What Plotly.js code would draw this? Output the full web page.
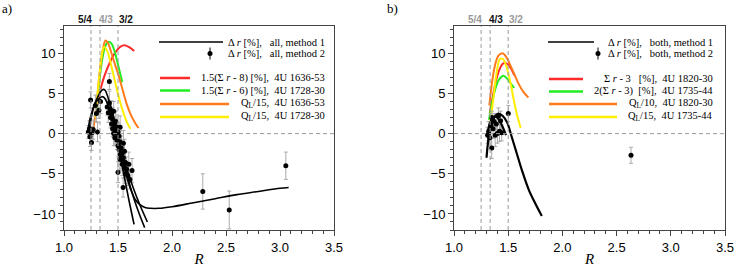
<!DOCTYPE html>
<html><head><meta charset="utf-8">
<script src="https://cdn.plot.ly/plotly-3.0.1.min.js"></script>
<style>html,body{margin:0;padding:0;background:#fff}#plot{width:735px;height:267px}</style>
</head><body><div id="plot"></div>
<script>
// ---------- Panel a data ----------
const redA_R = [1.31,1.33,1.36,1.40,1.44,1.48,1.52,1.56,1.60,1.65];
const redA_v = [3.5,5.0,6.6,8.1,9.3,10.2,10.8,11.0,10.8,10.3];
const greenA_R = [1.30,1.32,1.34,1.36,1.38,1.40,1.42,1.44,1.46,1.48,1.50,1.52,1.54];
const greenA_v = [2.5,5.5,8.0,9.7,10.8,11.3,11.4,11.2,10.6,9.7,8.6,7.5,6.4];
const orangeA_R = [1.27,1.30,1.33,1.36,1.385,1.41,1.44,1.47,1.50,1.54,1.58,1.62,1.66,1.69];
const orangeA_v = [0.3,3.5,7.5,10.5,11.6,11.2,10.0,8.7,7.5,5.6,3.7,2.3,1.3,0.7];
const yellowA_R = [1.29,1.31,1.33,1.35,1.37,1.40,1.43,1.46,1.49,1.52,1.55,1.58,1.615];
const yellowA_v = [2.0,4.8,7.6,9.8,10.8,10.3,8.9,7.2,5.5,3.9,2.6,1.5,0.6];
const m1A_R = [1.22,1.24,1.27,1.30,1.33,1.36,1.38,1.40,1.43,1.46,1.50,1.54,1.58,1.62,1.66,1.70,1.75,1.80,1.88,2.0,2.2,2.4,2.6,2.8,3.0,3.08];
const m1A_v = [0.2,1.8,3.2,4.2,5.0,5.5,5.4,4.8,3.5,2.0,-0.5,-3.0,-5.3,-7.0,-8.2,-8.8,-9.2,-9.3,-9.3,-9.1,-8.6,-8.1,-7.6,-7.2,-6.8,-6.7];
const m1A2_R = [1.23,1.26,1.29,1.32,1.35,1.37,1.40,1.45,1.50,1.55,1.60,1.649];
const m1A2_v = [0.0,2.5,3.8,4.3,4.6,4.5,3.8,1.8,-1.3,-4.8,-8.2,-11.3];
const m1A3_R = [1.45,1.50,1.55,1.60,1.65,1.70,1.747];
const m1A3_v = [2.0,-0.5,-3.4,-6.0,-8.2,-10.1,-11.7];
const m1A4_R = [1.46,1.52,1.58,1.64,1.70,1.772];
const m1A4_v = [1.5,-1.5,-4.3,-6.7,-8.8,-11.0];
const m2A_R = [1.225,1.235,1.24,1.246,1.255,1.26,1.27,1.29,1.30,1.31,1.323,1.338,
  1.40,1.41,1.42,1.42,1.43,1.43,1.44,1.44,1.45,1.45,1.46,1.46,1.47,1.47,1.48,1.48,1.49,1.49,
  1.50,1.50,1.51,1.51,1.52,1.52,1.52,1.53,1.53,1.54,1.54,1.55,1.55,1.56,1.56,1.57,1.57,1.58,
  1.59,1.60,1.61,1.63,1.547,1.517,1.50,2.285,2.53,3.054];
const m2A_v = [0.2,0.6,-0.4,4.2,-1.1,0.1,0.5,3.5,2.5,0.2,2.9,4.0,
  3.3,2.6,6.5,3.8,2.0,3.0,1.2,2.5,0.6,1.8,2.8,0.0,1.0,-0.5,1.5,0.3,-0.8,0.8,
  -1.5,0.2,-0.3,-2.0,-1.0,-2.6,0.8,-1.8,-3.2,-2.4,-3.8,-1.2,-3.0,-4.3,-2.2,-3.6,-5.0,-4.4,
  -5.2,-3.8,-5.7,-4.6,-6.7,-3.2,-4.8,-7.2,-9.5,-4.0];
const m2A_err = [0.8,1.0,1.2,1.0,1.0,0.8,1.2,1.3,1.0,1.2,1.0,1.5,
  1.0,1.2,1.0,1.5,1.3,1.0,1.2,1.6,1.0,1.4,1.2,1.5,1.2,1.0,1.3,1.6,1.2,1.0,
  1.4,1.2,1.5,1.1,1.3,1.2,1.4,1.5,1.2,1.3,1.4,1.6,1.2,1.3,1.5,1.4,1.2,1.5,
  1.3,1.5,1.2,1.5,1.2,1.4,1.3,2.2,2.35,1.7];

// ---------- Panel b data ----------
const redB_R = [1.33,1.36,1.39,1.42,1.45,1.47,1.50,1.53,1.556];
const redB_v = [2.5,4.8,6.7,8.0,8.7,8.8,8.6,8.0,7.25];
const greenB_R = [1.323,1.35,1.38,1.41,1.44,1.455,1.48,1.51,1.53,1.556];
const greenB_v = [1.7,3.8,5.5,6.6,7.1,7.2,7.0,6.5,6.1,5.7];
const orangeB_R = [1.326,1.35,1.38,1.41,1.446,1.48,1.52,1.56,1.60,1.64,1.686];
const orangeB_v = [3.5,6.3,8.6,9.7,10.0,9.6,8.5,7.3,6.1,5.2,4.5];
const yellowB_R = [1.33,1.36,1.39,1.424,1.45,1.48,1.517,1.547,1.58,1.615];
const yellowB_v = [1.0,4.0,7.3,9.3,9.3,8.5,6.6,4.5,2.4,0.7];
const m1B_R = [1.30,1.32,1.35,1.38,1.41,1.45,1.49,1.53,1.58,1.63,1.69,1.75,1.81];
const m1B_v = [-3.0,-0.5,1.3,2.2,2.5,2.2,1.4,-0.3,-2.5,-4.7,-7.0,-8.7,-10.25];
const m1B2_R = [1.31,1.33,1.36,1.39,1.42,1.45,1.48];
const m1B2_v = [0.0,1.2,2.0,2.1,1.6,0.8,-0.2];
const m2B_R = [1.31,1.317,1.32,1.33,1.34,1.348,1.35,1.36,1.37,1.38,1.39,1.40,1.41,1.42,1.43,1.44,1.501,2.633];
const m2B_v = [-0.2,-0.1,0.3,-0.5,1.0,-1.8,2.0,0.6,1.5,-0.2,1.2,0.0,2.2,0.3,1.6,0.1,2.5,-2.7];
const m2B_err = [1.0,0.8,1.2,1.0,1.5,1.3,0.8,1.2,1.0,1.4,1.0,1.2,1.0,1.3,1.2,1.0,1.0,1.0];

// ---------- Labels ----------
const resonances = [1.25, 4/3, 1.5];
const resLabels = ['5/4','4/3','3/2'];
const resColorsA = ['#111','#999','#111'];
const resColorsB = ['#999','#111','#999'];
const legendA = ['Δ <i>r</i> [%],\u00a0\u00a0 all, method 1','Δ <i>r</i> [%],\u00a0\u00a0 all, method 2',
  '1.5(Σ <i>r</i> - 8) [%],\u00a0 4U 1636-53','1.5(Σ <i>r</i> - 6) [%],\u00a0 4U 1728-30',
  'Q<sub>L</sub>/15,\u00a0 4U 1636-53','Q<sub>L</sub>/15,\u00a0 4U 1728-30'];
const legendB = ['Δ <i>r</i> [%],\u00a0\u00a0 both, method 1','Δ <i>r</i> [%],\u00a0\u00a0 both, method 2',
  'Σ <i>r</i> - 3\u00a0\u00a0 [%],\u00a0 4U 1820-30','2(Σ <i>r</i> - 3)\u00a0 [%],\u00a0 4U 1735-44',
  'Q<sub>L</sub>/10,\u00a0 4U 1820-30','Q<sub>L</sub>/15,\u00a0 4U 1735-44'];

const RED='#ff2a2a', GREEN='#22ee22', ORANGE='#ff7a1a', YELLOW='#ffee00';
const W=735, H=267;
function line(R,v,color,ax,width){return {x:R,y:v,mode:'lines',line:{color:color,width:width||2,shape:'spline'},xaxis:ax[0],yaxis:ax[1],showlegend:false,hoverinfo:'skip'};}
function pts(R,v,e,ax){return {x:R,y:v,mode:'markers',marker:{color:'#000',size:5},error_y:{type:'data',array:e,visible:true,color:'#aaa',thickness:1,width:2},xaxis:ax[0],yaxis:ax[1],showlegend:false,hoverinfo:'skip'};}
const A=['x','y'], B=['x2','y2'];
const data = [
  line(redA_R,redA_v,RED,A), line(greenA_R,greenA_v,GREEN,A),
  line(orangeA_R,orangeA_v,ORANGE,A), line(yellowA_R,yellowA_v,YELLOW,A),
  pts(m2A_R,m2A_v,m2A_err,A),
  line(m1A_R,m1A_v,'#000',A,1.6), line(m1A2_R,m1A2_v,'#000',A,1.6),
  line(m1A3_R,m1A3_v,'#000',A,1.6), line(m1A4_R,m1A4_v,'#000',A,1.6),
  line(redB_R,redB_v,RED,B), line(greenB_R,greenB_v,GREEN,B),
  line(orangeB_R,orangeB_v,ORANGE,B), line(yellowB_R,yellowB_v,YELLOW,B),
  pts(m2B_R,m2B_v,m2B_err,B),
  line(m1B_R,m1B_v,'#000',B,2.2), line(m1B2_R,m1B2_v,'#000',B,2.2)
];
const yDom=[(H-230)/H,(H-26)/H];
function xa(dom){return {domain:dom,range:[1,3.5],dtick:0.5,tick0:1,tickformat:'.1f',ticks:'outside',ticklen:5,tickcolor:'#444',
  minor:{dtick:0.1,ticklen:3,ticks:'outside',tickcolor:'#444'},showline:true,mirror:true,linecolor:'#444',linewidth:1,
  showgrid:false,zeroline:false,tickfont:{family:'Liberation Sans',size:13,color:'#000'},
  title:{text:'<i>R</i>',font:{family:'Liberation Serif',size:15,color:'#000'},standoff:0}};}
function ya(anchor){return {domain:yDom,range:[-12,13.4],dtick:5,tick0:0,ticks:'outside',ticklen:5,tickcolor:'#444',
  minor:{dtick:1,ticklen:3,ticks:'outside',tickcolor:'#444'},showline:true,mirror:true,linecolor:'#444',linewidth:1,
  showgrid:false,zeroline:false,anchor:anchor,tickfont:{family:'Liberation Sans',size:13,color:'#000'}};}
const shapes=[], annotations=[];
[['x','y'],['x2','y2']].forEach(function(ax){
  resonances.forEach(function(r){shapes.push({type:'line',xref:ax[0],yref:ax[1]+' domain',x0:r,x1:r,y0:0,y1:1,line:{color:'#9a9a9a',width:1,dash:'4px,3px'}});});
  shapes.push({type:'line',xref:ax[0]+' domain',yref:ax[1],x0:0,x1:1,y0:0,y1:0,line:{color:'#9a9a9a',width:1,dash:'4px,3px'}});
});
resonances.forEach(function(r,i){
  const xs=[3,-3,-1][i];
  annotations.push({x:r,xref:'x',y:(H-20)/H,yref:'paper',text:'<b>'+resLabels[i]+'</b>',showarrow:false,xanchor:i===0?'right':'left',yanchor:'middle',xshift:xs,font:{family:'Liberation Sans',size:10,color:resColorsA[i]}});
  annotations.push({x:r,xref:'x2',y:(H-20)/H,yref:'paper',text:'<b>'+resLabels[i]+'</b>',showarrow:false,xanchor:i===0?'right':'left',yanchor:'middle',xshift:xs,font:{family:'Liberation Sans',size:10,color:resColorsB[i]}});
});
annotations.push({x:0,y:(H-9)/H,xref:'paper',yref:'paper',text:'a)',showarrow:false,xanchor:'left',yanchor:'middle',font:{family:'Liberation Serif',size:13,color:'#000'}});
annotations.push({x:385/W,y:(H-9)/H,xref:'paper',yref:'paper',text:'b)',showarrow:false,xanchor:'left',yanchor:'middle',font:{family:'Liberation Serif',size:13,color:'#000'}});
function legend(labels,textRight,rows,samples,markerX){
  const colors=['#000',null,RED,GREEN,ORANGE,YELLOW];
  labels.forEach(function(t,i){
    const py=rows[i];
    annotations.push({x:textRight/W,y:(H-py)/H,xref:'paper',yref:'paper',text:t,showarrow:false,xanchor:'right',yanchor:'middle',font:{family:'Liberation Serif',size:10.5,color:'#000'}});
    if(i===1){
      shapes.push({type:'line',xref:'paper',yref:'paper',x0:markerX/W,x1:markerX/W,y0:(H-py-6)/H,y1:(H-py+6)/H,line:{color:'#000',width:1}});
      shapes.push({type:'circle',xref:'paper',yref:'paper',x0:(markerX-2.5)/W,x1:(markerX+2.5)/W,y0:(H-py-2.5)/H,y1:(H-py+2.5)/H,fillcolor:'#000',line:{color:'#000',width:0}});
    } else {
      const s=samples[i];
      shapes.push({type:'line',xref:'paper',yref:'paper',x0:s[0]/W,x1:s[1]/W,y0:(H-py)/H,y1:(H-py)/H,line:{color:colors[i],width:i===0?1.5:2.5}});
    }
  });
}
legend(legendA,327,[42,53.5,78,90.5,104,117],[[159,223],null,[160,190],[160,190],[160,229],[160,229]],210);
legend(legendB,715,[42,53.5,79,91.5,104,117],[[548,594],null,[549,583],[549,583],[549,617],[549,617]],598);
const layout={width:W,height:H,margin:{l:0,r:0,t:0,b:0},paper_bgcolor:'#fff',plot_bgcolor:'#fff',showlegend:false,
  xaxis:xa([64/W,334/W]),yaxis:ya('x'),xaxis2:Object.assign(xa([454/W,725/W]),{anchor:'y2'}),yaxis2:ya('x2'),
  shapes:shapes,annotations:annotations};
layout.xaxis.anchor='y';
Plotly.newPlot('plot',data,layout,{staticPlot:true});
</script></body></html>
